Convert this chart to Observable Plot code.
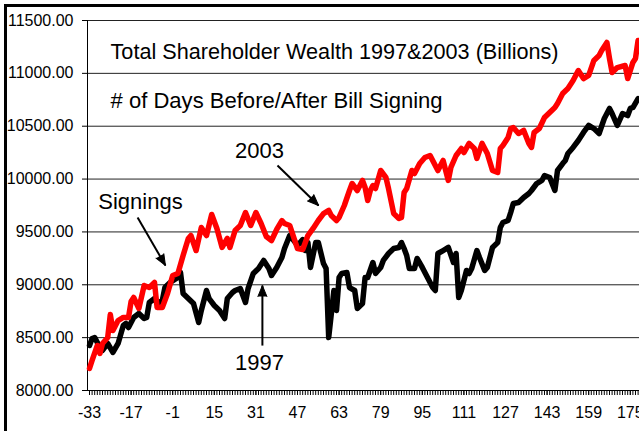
<!DOCTYPE html>
<html>
<head>
<meta charset="utf-8">
<script src="https://cdn.jsdelivr.net/npm/d3@7"></script>
<script src="https://cdn.jsdelivr.net/npm/@observablehq/plot@0.6"></script>
<style>
  body { margin: 0; background: #fff; }
  #wrap { position: relative; width: 639px; height: 431px; overflow: hidden; background: #fff; }
  #wrap svg { position: absolute; left: 0; top: 0; }
  #frame { position: absolute; left: 4px; top: 4px; width: 700px; height: 500px;
           border-left: 3px solid #000; border-top: 3px solid #000; pointer-events: none; }
</style>
</head>
<body>
<div id="wrap"><div id="frame"></div></div>
<script>
// 1997 series: days relative to bill signing, total shareholder wealth (billions)
const days1997 = [-33,-32,-31,-30,-28,-26,-24,-22,-20,-19,
  -18,-16,-14,-12,-11,-10,-8,-7,-5,-4,
  -2,1,2,3,5,7,9,10,12,13,
  15,17,19,20,22,23,25,27,28,30,
  32,34,36,37,39,41,42,44,45,47,
  49,50,51,52,54,55,57,58,59,61,
  62,63,64,66,67,69,70,72,73,74,
  76,77,79,80,82,84,86,87,88,89,
  90,92,93,95,97,99,100,101,103,105,
  107,108,109,110,112,113,114,116,117,119,
  120,121,122,124,125,126,128,129,130,132,
  134,136,137,139,141,142,144,146,147,149,
  150,151,153,155,157,159,161,163,165,167,
  168,170,172,174,175,176,178];
const values1997 = [8426,8492,8501,8454,8379,8445,8360,8445,8615,8634,
  8596,8691,8729,8681,8691,8833,8870,8823,8851,8974,
  9022,9069,9116,8918,8870,8823,8643,8757,8946,8870,
  8804,8757,8681,8870,8927,8946,8965,8833,8965,9107,
  9154,9230,9154,9088,9164,9258,9343,9466,9438,9372,
  9428,9324,9400,9164,9400,9400,9201,9154,8501,8946,
  8757,9069,9107,9116,8974,8946,8776,8823,9069,9069,
  9211,9107,9164,9230,9296,9343,9353,9400,9343,9277,
  9154,9154,9249,9164,9069,8974,8946,9296,9324,9353,
  9211,9296,8880,8946,9135,9107,9154,9324,9258,9135,
  9164,9258,9353,9400,9542,9589,9608,9684,9769,9778,
  9826,9864,9892,9958,9987,10034,10015,9892,10081,10147,
  10176,10242,10299,10365,10441,10507,10478,10431,10573,10668,
  10620,10507,10620,10601,10668,10677,10762];

// 2003 series
const days2003 = [-33,-32,-30,-29,-28,-26,-25,-24,-22,-20,
  -18,-17,-16,-14,-12,-10,-8,-7,-5,-3,
  -1,1,3,5,6,8,10,12,14,16,
  18,20,21,23,25,27,29,31,33,35,
  37,39,41,42,44,47,49,51,53,55,
  57,59,60,62,63,65,67,68,70,72,
  73,74,75,76,77,79,81,82,84,86,
  87,88,89,91,92,94,96,98,100,101,
  103,105,106,108,110,111,113,115,116,118,
  120,122,124,125,126,128,129,130,132,134,
  136,137,138,140,142,144,146,147,149,151,
  153,155,157,159,161,163,164,166,167,168,
  170,173,174,176,177,178];
const values2003 = [8210,8284,8426,8350,8445,8501,8719,8568,8662,8691,
  8691,8842,8880,8776,8993,8974,9022,8785,8785,8918,
  9088,9107,9277,9438,9466,9324,9542,9466,9665,9533,
  9353,9438,9353,9514,9561,9684,9561,9684,9580,9457,
  9419,9523,9608,9580,9561,9343,9334,9466,9533,9608,
  9674,9703,9655,9608,9637,9750,9892,9958,9892,9987,
  9920,9797,9892,9939,9911,10081,10015,9911,9674,9627,
  9637,9873,9911,10081,10053,10147,10204,10223,10128,10081,
  10176,9987,10110,10223,10289,10251,10337,10289,10195,10337,
  10242,10081,10062,10289,10318,10393,10478,10488,10431,10460,
  10337,10299,10441,10478,10582,10630,10677,10715,10809,10857,
  10932,11027,10951,10980,11122,11169,11216,11292,11141,11008,
  11055,11074,10951,11103,11141,11311];

// Axes
const yTicks = [8000,8500,9000,9500,10000,10500,11000,11500];
const xLabels = [-33,-17,-1,15,31,47,63,79,95,111,127,143,159,175];
const allDays = d3.range(-33, 179);
const xDomain = [-33.77, 178.54];
const yDomain = [8000, 11500];

// Annotations (data coordinates)
const noteTexts = ["Total Shareholder Wealth 1997&2003 (Billions)", "# of Days Before/After Bill Signing", "2003", "Signings", "1997"];
const noteDays = [-24.9, -24.9, 32.4, -13.4, 32.4];
const noteValues = [11207, 10743, 10270, 9788, 8256];
const noteWidths = [448, 332];

const arrowFromDay = [39.3, -14.5, 33.5];
const arrowFromValue = [10128, 9637, 8425];
const arrowToDay = [55.1, -3.8, 33.5];
const arrowToValue = [9750, 9183, 8993];

const W = 639, H = 431, mL = 87, mR = 0, mT = 20, mB = 41;

const rows1997 = days1997.map((d, i) => ({day: d, value: values1997[i]}));
const rows2003 = days2003.map((d, i) => ({day: d, value: values2003[i]}));
const notesStart = [0, 1].map(i => ({t: noteTexts[i], x: noteDays[i], y: noteValues[i]}));
const notesMid = [2, 3, 4].map(i => ({t: noteTexts[i], x: noteDays[i], y: noteValues[i]}));

const sx = d3.scaleLinear(xDomain, [mL, W - mR]);
const sy = d3.scaleLinear(yDomain, [H - mB, mT]);
const arrows = arrowFromDay.map((d, i) => {
  const dx = sx(arrowToDay[i]) - sx(d);
  const dy = sy(arrowToValue[i]) - sy(arrowFromValue[i]);
  return {x1: d, y1: arrowFromValue[i], x2: arrowToDay[i], y2: arrowToValue[i],
          rot: Math.atan2(dx, -dy) * 180 / Math.PI};
});

const chart = Plot.plot({
  width: W, height: H,
  marginLeft: mL, marginRight: mR, marginTop: mT, marginBottom: mB,
  style: {fontFamily: "'Liberation Sans', Arial, sans-serif", background: "transparent", color: "#000"},
  x: {domain: xDomain},
  y: {domain: yDomain},
  marks: [
    Plot.ruleY(yTicks.slice(1), {stroke: "#222", strokeWidth: 1}),
    Plot.ruleY([yDomain[0]], {stroke: "#000", strokeWidth: 1}),
    Plot.ruleX([xDomain[0]], {stroke: "#000", strokeWidth: 1}),
    Plot.axisX(allDays, {tickSize: 5, tickFormat: () => "", label: null, stroke: "#000"}),
    Plot.axisX(xLabels, {tickSize: 5, tickPadding: 11, fontSize: 16, tickFormat: d => String(d), label: null, stroke: "#000"}),
    Plot.axisY(yTicks, {tickSize: 5, tickPadding: 9, fontSize: 16, tickFormat: d => d.toFixed(2), label: null, stroke: "#000"}),
    Plot.line(rows1997, {x: "day", y: "value", stroke: "#000", strokeWidth: 5.5, strokeLinejoin: "round", strokeLinecap: "round"}),
    Plot.line(rows2003, {x: "day", y: "value", stroke: "#ff0000", strokeWidth: 5.5, strokeLinejoin: "round", strokeLinecap: "round"}),
    Plot.link(arrows, {x1: "x1", y1: "y1", x2: "x2", y2: "y2", stroke: "#000", strokeWidth: 2}),
    Plot.vector(arrows, {x: "x2", y: "y2", rotate: "rot", length: 11, r: 4.5, shape: "spike", anchor: "end", fill: "#000", stroke: "#000", strokeWidth: 1}),
    Plot.text(notesStart, {x: "x", y: "y", text: "t", textAnchor: "start", fontSize: 22, fill: "#000", className: "title-note"}),
    Plot.text(notesMid, {x: "x", y: "y", text: "t", textAnchor: "middle", fontSize: 22, fill: "#000"})
  ]
});
document.getElementById("wrap").insertBefore(chart, document.getElementById("frame"));
// fit the two title lines to the widths measured in the reference
d3.select(chart).selectAll("g.title-note text").each(function(d, i) {
  if (noteWidths[i]) {
    this.setAttribute("textLength", noteWidths[i]);
    this.setAttribute("lengthAdjust", "spacingAndGlyphs");
  }
});
</script>
</body>
</html>
